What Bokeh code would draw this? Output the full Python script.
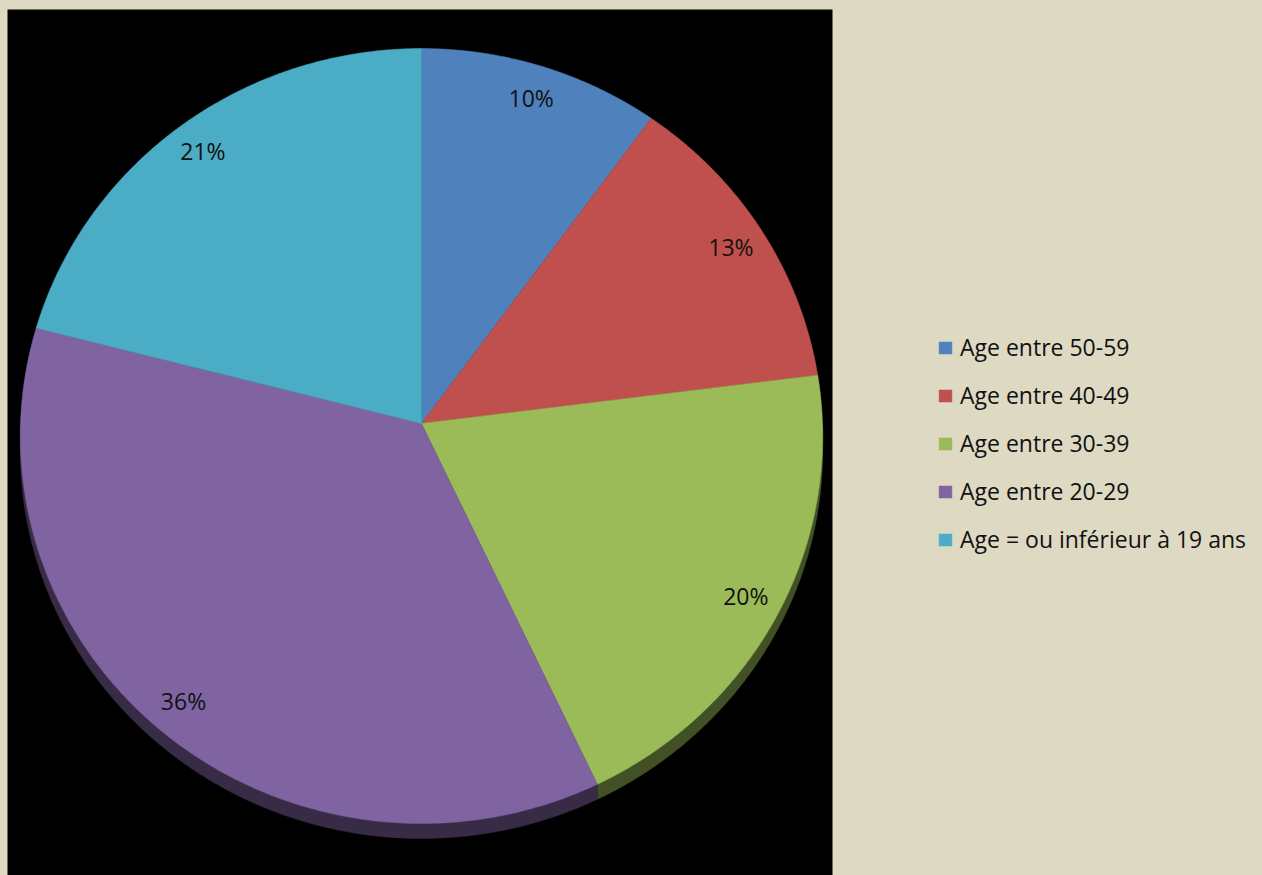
import numpy as np
from bokeh.plotting import figure
from bokeh.models import Range1d, BoxAnnotation, ColumnDataSource, Legend, LegendItem
from bokeh.core.properties import value
from bokeh.embed import file_html
from bokeh.resources import INLINE

# ---- data ----
categories = ["Age entre 50-59", "Age entre 40-49", "Age entre 30-39",
              "Age entre 20-29", "Age = ou inférieur à 19 ans"]
values = [10, 13, 20, 36, 21]
colors = ["#4F81BD", "#C0504D", "#9BBB59", "#8064A2", "#4BACC6"]

# ---- geometry of the tilted (3-D) pie, page pixel units ----
AX, AY = 421.0, 423.0      # apex of the slices
RX, RY = 401.0, 387.1      # projected radii
K = 0.0323                 # perspective factor
DEPTH = 15.0               # thickness of the pie wall
BG = "#DDD9C3"


def proj(theta, f=1.0):
    u = np.cos(theta)
    s = np.sin(theta)
    w = 1.0 + K * f * u
    return AX + RX * f * s / w, AY - RY * f * u / w


def darken(hexc, k=0.43):
    h = hexc.lstrip("#")
    r, g, b = (int(h[i:i + 2], 16) for i in (0, 2, 4))
    return "#%02x%02x%02x" % (int(r * k), int(g * k), int(b * k))


total = float(sum(values))
bounds = np.concatenate([[0.0], np.cumsum(values) / total]) * 2 * np.pi

xs, ys, side_xs, side_ys, side_cols = [], [], [], [], []
lab_x, lab_y, lab_t = [], [], []
for i, v in enumerate(values):
    a, b = bounds[i], bounds[i + 1]
    t = np.linspace(a, b, 200)
    px, py = proj(t)
    xs.append([AX] + list(px))
    ys.append([AY] + list(py))
    # visible front wall (theta between 90 and 270 degrees)
    lo, hi = max(a, np.pi / 2), min(b, 3 * np.pi / 2)
    if hi > lo:
        ts = np.linspace(lo, hi, 200)
        sx, sy = proj(ts)
        side_xs.append(list(sx) + list(sx[::-1]))
        side_ys.append(list(sy) + list((sy + DEPTH)[::-1]))
        side_cols.append(darken(colors[i]))
    mx, my = proj((a + b) / 2, 0.91)
    lab_x.append(mx)
    lab_y.append(my)
    lab_t.append(f"{v}%")

W, H = 1262, 875
p = figure(width=W, height=H, x_range=Range1d(0, W), y_range=Range1d(H, 0),
           x_axis_type=None, y_axis_type=None, toolbar_location=None,
           output_backend="svg", min_border=0)
p.background_fill_color = BG
p.border_fill_color = BG
p.outline_line_color = None
p.grid.visible = False

p.add_layout(BoxAnnotation(left=7, right=832, top=9, bottom=H,
                           fill_color="black", fill_alpha=1.0, line_color=None,
                           level="underlay"))

p.patches(side_xs, side_ys, fill_color=side_cols, line_color=side_cols, line_width=0.5)

src = ColumnDataSource(dict(xs=xs, ys=ys, color=colors, label=categories))
r = p.patches("xs", "ys", source=src, fill_color="color", line_color="color",
              line_width=0.5)

p.text(lab_x, lab_y, text=lab_t, text_align="center", text_baseline="middle",
       text_font=value("Open Sans"), text_font_size="23px", text_color="#111111")

items = [LegendItem(label=c, renderers=[r], index=i) for i, c in enumerate(categories)]
legend = Legend(items=items, location=(937, 320), glyph_width=16, glyph_height=15,
                label_text_font="Open Sans", label_text_font_size="23px",
                label_text_color="#111111", label_standoff=7, spacing=16,
                padding=0, margin=0, border_line_color=None,
                background_fill_alpha=0)
p.add_layout(legend)

TEMPLATE = """{% block preamble %}<style>html,body{background:#DDD9C3 !important;margin:0 !important;padding:0 !important;overflow:hidden;}</style>{% endblock %}"""
open("out.html", "w").write(file_html(p, INLINE, template=TEMPLATE))
